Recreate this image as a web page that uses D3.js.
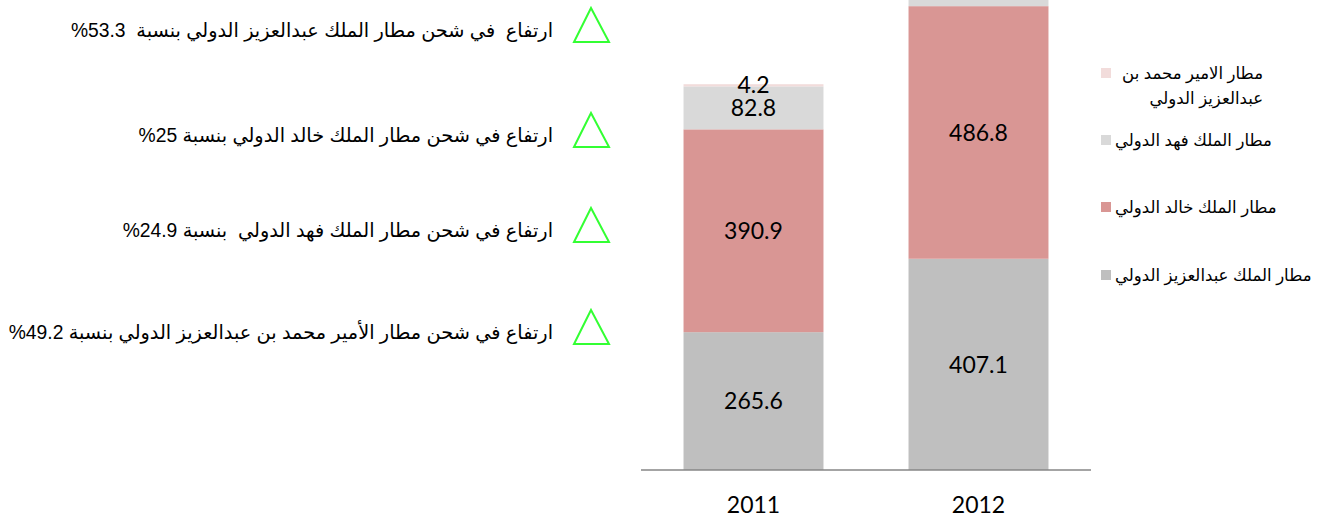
<html>
  <head>
    <title>Air cargo</title>
    <meta charset="utf-8" />
    <script src="https://cdnjs.cloudflare.com/ajax/libs/d3/7.6.1/d3.min.js"></script>
    <style>
      body { margin: 0; background: #fff; }
      .note, .legend text { font-family: Arial, "Liberation Sans", "DejaVu Sans", sans-serif; fill: #000; white-space: pre; }
      .val, .axis text { font-family: Lato, "Open Sans", sans-serif; fill: #000; }
    </style>
  </head>
  <body>
    <svg width="1322" height="519"></svg>
  </body>

  <script>
    // data
    const years = ["2011", "2012"];
    const series = [
      "مطار الملك عبدالعزيز الدولي",
      "مطار الملك خالد الدولي",
      "مطار الملك فهد الدولي",
      "مطار الامير محمد بن عبدالعزيز الدولي",
    ];
    const abdulaziz = [265.6, 407.1];
    const khalid = [390.9, 486.8];
    const fahd = [82.8, 103.4];
    const mohammed = [4.2, 6.3];
    const colors = ["#bfbfbf", "#d99694", "#d9d9d9", "#f2dcdb"];
    const notes = [
      "ارتفاع  في شحن مطار الملك عبدالعزيز الدولي بنسبة  53.3%",
      "ارتفاع في شحن مطار الملك خالد الدولي بنسبة 25%",
      "ارتفاع في شحن مطار الملك فهد الدولي  بنسبة 24.9%",
      "ارتفاع في شحن مطار الأمير محمد بن عبدالعزيز الدولي بنسبة 49.2%",
    ];

    let svg = d3.select("svg");
    const values = [abdulaziz, khalid, fahd, mohammed];
    const table = years.map((yr, i) => {
      let row = { year: yr };
      series.forEach((s, j) => (row[s] = values[j][i]));
      return row;
    });

    let x = d3.scaleBand().domain(years).range([641, 1091]).paddingInner(0.378).paddingOuter(0.189),
      y = d3.scaleLinear().domain([0, 900]).range([470, 3]);

    let stack = d3.stack().keys(series)(table);

    let layers = svg
      .selectAll(".layer")
      .data(stack)
      .enter()
      .append("g")
      .attr("fill", (d, i) => colors[i]);

    layers
      .selectAll("rect")
      .data((d) => d)
      .enter()
      .append("rect")
      .attr("x", (d) => x(d.data.year))
      .attr("y", (d) => y(d[1]))
      .attr("width", x.bandwidth())
      .attr("height", (d) => y(d[0]) - y(d[1]));

    // value labels (the ones above the top edge are cut off in the original)
    layers.each(function (layer, i) {
      let ly = (d) => (i === 3 ? y(d[1]) + 1 : (y(d[0]) + y(d[1])) / 2);
      d3.select(this)
        .selectAll("text")
        .data(layer.filter((d) => ly(d) > 0))
        .enter()
        .append("text")
        .attr("class", "val")
        .attr("x", (d) => x(d.data.year) + x.bandwidth() / 2)
        .attr("y", ly)
        .attr("dy", "0.36em")
        .attr("text-anchor", "middle")
        .attr("font-size", 23)
        .text((d) => d3.format(".1f")(d[1] - d[0]));
    });

    let xAxis = svg
      .append("g")
      .attr("class", "axis")
      .attr("transform", "translate(0,470)")
      .call(d3.axisBottom(x).tickSize(0).tickPadding(27));
    xAxis.select(".domain").attr("d", "M641,0H1091").attr("stroke", "#868686").attr("stroke-width", 1.5);
    xAxis.selectAll("text").attr("font-size", 23);

    // legend, top item is the last series
    let legendY = [73, 140, 207, 275];
    let legend = svg
      .selectAll(".legend")
      .data(series.slice().reverse())
      .enter()
      .append("g")
      .attr("class", "legend")
      .attr("transform", (d, i) => `translate(0,${legendY[i]})`);
    legend
      .append("rect")
      .attr("x", 1101)
      .attr("y", -5)
      .attr("width", 10)
      .attr("height", 10)
      .attr("fill", (d, i) => colors[3 - i]);
    legend.each(function (d, i) {
      let t = d3.select(this).append("text").attr("direction", "rtl").attr("font-size", 16.5);
      if (i === 0) {
        // wrapped item, lines aligned on the right
        ["مطار الامير محمد بن", "عبدالعزيز الدولي"].forEach((l, k) =>
          t.append("tspan").attr("x", 1263).attr("y", k * 25).attr("dy", "0.35em").attr("text-anchor", "start").text(l)
        );
      } else {
        t.attr("x", 1115).attr("dy", "0.35em").attr("text-anchor", "end").text(d);
      }
    });

    // notes with triangles
    let noteY = [30, 135, 230, 332];
    let note = svg
      .selectAll(".notes")
      .data(notes)
      .enter()
      .append("g")
      .attr("transform", (d, i) => `translate(0,${noteY[i]})`);
    note
      .append("path")
      .attr("d", "M591,-22L609,12L574,12Z")
      .attr("fill", "none")
      .attr("stroke", "#33ff33")
      .attr("stroke-width", 2);
    note
      .append("text")
      .attr("class", "note")
      .attr("x", 553)
      .attr("direction", "rtl")
      .attr("text-anchor", "start")
      .attr("dy", "0.35em")
      .attr("font-size", 19.3)
      .text((d) => d);
  </script>
</html>
